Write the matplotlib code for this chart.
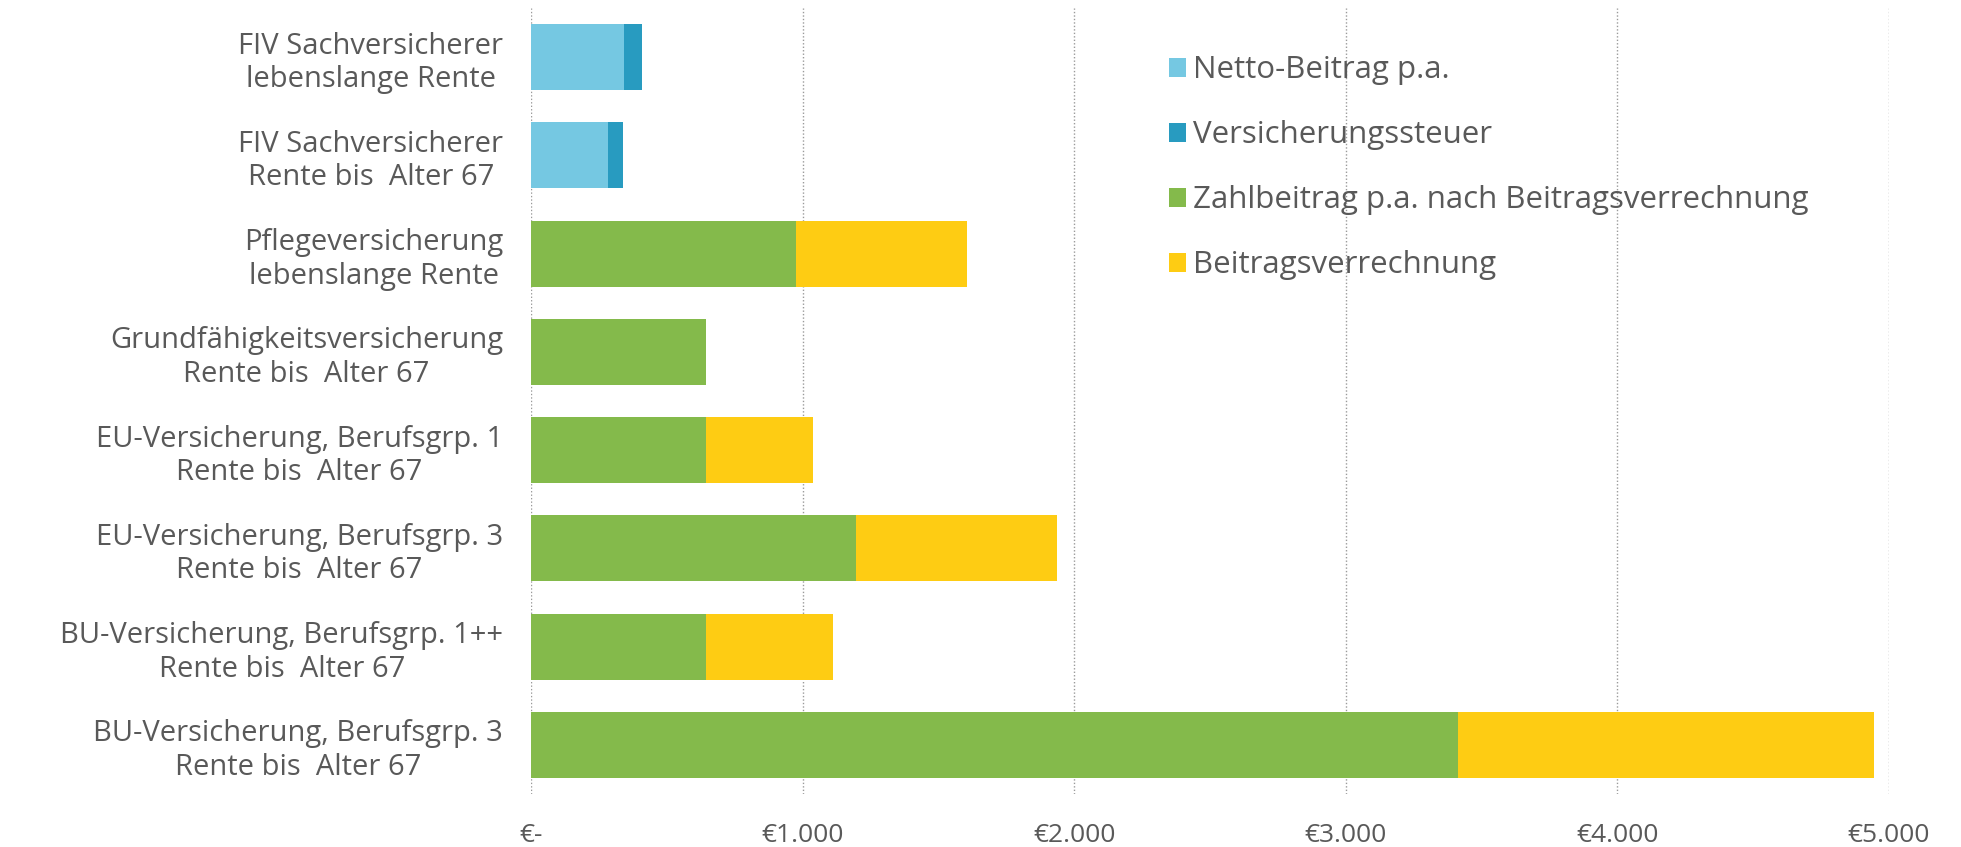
import matplotlib
matplotlib.use("Agg")
import matplotlib.pyplot as plt
import numpy as np

categories = [
    "FIV Sachversicherer\nlebenslange Rente",
    "FIV Sachversicherer\nRente bis  Alter 67",
    "Pflegeversicherung\nlebenslange Rente",
    "Grundfähigkeitsversicherung\nRente bis  Alter 67",
    "EU-Versicherung, Berufsgrp. 1\nRente bis  Alter 67",
    "EU-Versicherung, Berufsgrp. 3\nRente bis  Alter 67",
    "BU-Versicherung, Berufsgrp. 1++\nRente bis  Alter 67",
    "BU-Versicherung, Berufsgrp. 3\nRente bis  Alter 67",
]
netto = [341, 284, 0, 0, 0, 0, 0, 0]
steuer = [66, 54, 0, 0, 0, 0, 0, 0]
zahlbeitrag = [0, 0, 977, 645, 645, 1198, 645, 3413]
verrechnung = [0, 0, 627, 0, 392, 737, 466, 1532]
series_names = ["Netto-Beitrag p.a.", "Versicherungssteuer",
                "Zahlbeitrag p.a. nach Beitragsverrechnung", "Beitragsverrechnung"]
xticks = [0, 1000, 2000, 3000, 4000, 5000]
xticklabels = ["€-", "€1.000", "€2.000", "€3.000", "€4.000", "€5.000"]

colors = ["#75C8E2", "#289BC0", "#84BA4B", "#FECC13"]
text_color = "#595959"

plt.rcParams['font.family'] = ['Open Sans', 'DejaVu Sans']

fig = plt.figure(figsize=(19.61, 8.47), dpi=100)
ax = fig.add_axes([531/1961, 1 - 794/847, (1889 - 531)/1961, (794 - 8)/847])

y = np.arange(len(categories))
h = 0.67
left = np.zeros(len(categories))
for vals, c, name in zip([netto, steuer, zahlbeitrag, verrechnung], colors, series_names):
    v = np.array(vals, dtype=float)
    ax.barh(y, v, left=left, height=h, color=c, label=name, zorder=2)
    left += v

ax.set_ylim(len(categories) - 0.5, -0.5)
ax.set_xlim(0, 5000)
ax.set_xticks(xticks)
ax.set_xticklabels(xticklabels, fontsize=19)
ax.set_yticks(y)
ax.set_yticklabels(categories, multialignment='center', fontsize=21)
ax.tick_params(axis='both', length=0, labelcolor=text_color)
ax.tick_params(axis='y', pad=20)
ax.tick_params(axis='x', pad=21)
for s in ax.spines.values():
    s.set_visible(False)
ax.grid(axis='x', linestyle=(0, (1, 1.5)), color='#9A9A9A', linewidth=1.0, zorder=0)
ax.set_axisbelow(True)

leg = ax.legend(loc='upper left', bbox_to_anchor=(0.47, 0.94), frameon=False,
                fontsize=22.5, handlelength=0.55, handleheight=0.55, handletextpad=0.2,
                labelspacing=1.12, borderpad=0, borderaxespad=0)
for t in leg.get_texts():
    t.set_color(text_color)

fig.savefig("out.png", dpi=100, facecolor="white")
